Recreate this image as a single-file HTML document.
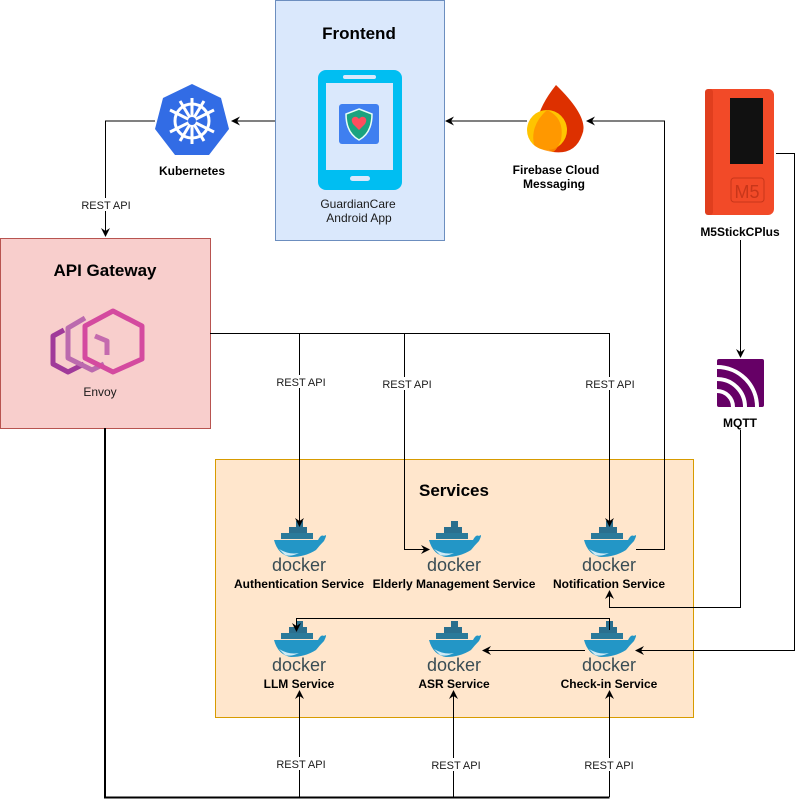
<!DOCTYPE html>
<html><head><meta charset="utf-8"><style>
html,body{margin:0;padding:0;background:#fff;}
svg{display:block;font-family:"Liberation Sans",Arial,sans-serif;}
.l{font-size:12px;font-weight:bold;fill:#000;text-anchor:middle;}
.r{font-size:11px;fill:#1a1a1a;text-anchor:middle;}
.t{font-size:17px;font-weight:bold;text-anchor:middle;}
.dk{font-size:18px;fill:#394d54;text-anchor:middle;}
</style></head><body>
<svg width="803" height="808" viewBox="0 0 803 808" xmlns="http://www.w3.org/2000/svg">
<defs>
<marker id="a" markerWidth="10" markerHeight="10" refX="8" refY="5" orient="auto" markerUnits="userSpaceOnUse">
<path d="M0,0.5 L9,5 L0,9.5 L3,5 Z" fill="#000"/></marker>
<g id="whale">
<rect x="-18" y="-10" width="32" height="6" fill="#2a7a9a"/>
<rect x="-10" y="-16" width="18" height="6" fill="#2a6f8e"/>
<rect x="-3" y="-22" width="7" height="6" fill="#2a6f8e"/>
<path d="M-25,-3 L19,-3 Q22,-9 25,-7 Q29,-10 25,-2 Q21,2 17,7 Q6,14 -8,14 Q-21,12 -25,-3 Z" fill="#2396c6"/>
<path d="M-20,6 Q-10,12 0,10 Q-8,14 -14,12 Z" fill="#cfeaf5"/>
</g>
</defs>

<!-- Frontend -->
<rect x="275.5" y="0.5" width="169" height="240" fill="#dae8fc" stroke="#6c8ebf"/>
<text class="t" x="359" y="39">Frontend</text>
<rect x="318" y="70" width="84" height="120" rx="8" fill="#00bef2"/>
<rect x="326" y="83" width="67" height="87" fill="#dae8fc"/>
<rect x="343" y="75" width="33" height="4" rx="2" fill="#dae8fc"/>
<rect x="350" y="176" width="20" height="5" rx="2.5" fill="#dae8fc"/>
<rect x="339" y="104" width="40" height="40" rx="3" fill="#3f7ff0"/>
<path d="M359,109 L372,114 Q372,133 359,140 Q346,133 346,114 Z" fill="#1aa37e" stroke="#e8fff6" stroke-width="1.5"/>
<path d="M359,130 L353,124 Q350,119 354,117 Q357,116 359,119 Q361,116 364,117 Q368,119 365,124 Z" fill="#ff4d5e"/>
<text class="r" x="358" y="208" style="font-size:12px">GuardianCare</text>
<text class="r" x="359" y="222" style="font-size:12px">Android App</text>

<!-- Kubernetes -->
<polygon points="192,84 221,98 229,129 209,155 175,155 155,129 163,98" fill="#326ce5"/>
<g stroke="#fff" stroke-width="3" fill="none">
<circle cx="192" cy="121" r="17"/>
<line x1="192" y1="98" x2="192" y2="144"/><line x1="170" y1="110" x2="214" y2="132"/><line x1="170" y1="132" x2="214" y2="110"/>
<line x1="180" y1="101" x2="204" y2="141"/><line x1="204" y1="101" x2="180" y2="141"/>
</g>
<circle cx="192" cy="121" r="4" fill="#326ce5"/>
<text class="l" x="192" y="175">Kubernetes</text>

<!-- Firebase -->
<path d="M556,85 Q590,118 582,135 Q575,155 553,152 Q535,145 537,122 Q540,105 556,85 Z" fill="#dd3000"/>
<circle cx="547" cy="130" r="20" fill="#ffc400"/>
<path d="M547,110 Q565,118 561,140 Q557,150 553,152 Q540,150 534,145 Q530,125 547,110 Z" fill="#ff9100" opacity="0.85"/>
<text class="l" x="556" y="174">Firebase Cloud</text>
<text class="l" x="554" y="188">Messaging</text>

<!-- M5 -->
<rect x="705" y="89" width="69" height="126" rx="6" fill="#f24a28"/>
<rect x="705" y="89" width="8" height="126" rx="3" fill="#e03e1e"/>
<rect x="730" y="98" width="33" height="66" fill="#111"/>
<rect x="731" y="178" width="33" height="24" rx="3" fill="none" stroke="#c8361a"/>
<text x="747" y="198" style="font-size:18px;fill:#c8361a;text-anchor:middle">M5</text>
<text class="l" x="740" y="236">M5StickCPlus</text>

<!-- MQTT -->
<rect x="717" y="359" width="47" height="48" rx="2" fill="#660066"/>
<g fill="none" stroke="#fff" stroke-width="4">
<path d="M717,391 A16,16 0 0 1 733,407"/>
<path d="M717,379 A28,28 0 0 1 745,407"/>
<path d="M717,367 A40,40 0 0 1 757,407"/>
</g>
<text class="l" x="740" y="427">MQTT</text>

<!-- API Gateway -->
<rect x="0.5" y="238.5" width="210" height="190" fill="#f8cecc" stroke="#b85450"/>
<text class="t" x="105" y="276">API Gateway</text>
<g fill="none" stroke-width="5" stroke-linejoin="round">
<path d="M64,330 L53,336 L53,364 L68,372 L84,364" stroke="#a03a9a"/>
<path d="M85,318 L68,328 L68,358 L92,370 L104,364" stroke="#bb6aae"/>
<polygon points="113,311 142,326 142,359 113,372 85,358 85,326" stroke="#d44a9f"/>
<path d="M95,336 L107,341 L107,355" stroke="#c46aae"/>
</g>
<text class="r" x="100" y="396" style="font-size:12px">Envoy</text>

<!-- Services -->
<rect x="215.5" y="459.5" width="478" height="258" fill="#ffe6cc" stroke="#d79b00"/>
<text class="t" x="454" y="496">Services</text>

<g>
<use href="#whale" x="299" y="543"/><text class="dk" x="299" y="571">docker</text>
<use href="#whale" x="454" y="543"/><text class="dk" x="454" y="571">docker</text>
<use href="#whale" x="609" y="543"/><text class="dk" x="609" y="571">docker</text>
<use href="#whale" x="299" y="643"/><text class="dk" x="299" y="671">docker</text>
<use href="#whale" x="454" y="643"/><text class="dk" x="454" y="671">docker</text>
<use href="#whale" x="609" y="643"/><text class="dk" x="609" y="671">docker</text>
</g>
<text class="l" x="299" y="588">Authentication Service</text>
<text class="l" x="454" y="588">Elderly Management Service</text>
<text class="l" x="609" y="588">Notification Service</text>
<text class="l" x="299" y="688">LLM Service</text>
<text class="l" x="454" y="688">ASR Service</text>
<text class="l" x="609" y="688">Check-in Service</text>

<!-- connectors -->
<g stroke="#000" stroke-width="1" fill="none">
<line x1="275" y1="121" x2="232" y2="121" marker-end="url(#a)"/>
<polyline points="155,121 105.5,121 105.5,236" marker-end="url(#a)"/>
<line x1="527" y1="121" x2="446" y2="121" marker-end="url(#a)"/>
<polyline points="636,549.5 664.5,549.5 664.5,121 587,121" marker-end="url(#a)"/>
<line x1="740.5" y1="240" x2="740.5" y2="357" marker-end="url(#a)"/>
<polyline points="740.5,430 740.5,607.5 609.5,607.5 609.5,591" marker-end="url(#a)"/>
<polyline points="776,153.5 794.5,153.5 794.5,650.5 636,650.5" marker-end="url(#a)"/>
<polyline points="210,333.5 609.5,333.5 609.5,526" marker-end="url(#a)"/>
<line x1="299.5" y1="333" x2="299.5" y2="526" marker-end="url(#a)"/>
<polyline points="404.5,333 404.5,549.5 429,549.5" marker-end="url(#a)"/>
<polyline points="609.5,630 609.5,618.5 296.5,618.5 296.5,631" marker-end="url(#a)"/>
<line x1="585" y1="650.5" x2="483" y2="650.5" marker-end="url(#a)"/>
<polyline points="105,428 105,797.5 609.5,797.5" stroke-width="2"/>
<line x1="299.5" y1="797" x2="299.5" y2="691" marker-end="url(#a)"/>
<line x1="453.5" y1="797" x2="453.5" y2="691" marker-end="url(#a)"/>
<line x1="609.5" y1="797" x2="609.5" y2="691" marker-end="url(#a)"/>
</g>

<!-- labels with white bg -->
<g>
<rect x="80" y="198" width="52" height="13" fill="#fff"/><text class="r" x="106" y="209">REST API</text>
<rect x="274" y="375" width="52" height="13" fill="#fff"/><text class="r" x="301" y="386">REST API</text>
<rect x="380" y="377" width="54" height="13" fill="#fff"/><text class="r" x="407" y="388">REST API</text>
<rect x="583" y="377" width="54" height="13" fill="#fff"/><text class="r" x="610" y="388">REST API</text>
<rect x="274" y="757" width="52" height="13" fill="#fff"/><text class="r" x="301" y="768">REST API</text>
<rect x="430" y="758" width="52" height="13" fill="#fff"/><text class="r" x="456" y="769">REST API</text>
<rect x="583" y="758" width="52" height="13" fill="#fff"/><text class="r" x="609" y="769">REST API</text>
</g>
</svg>
</body></html>
